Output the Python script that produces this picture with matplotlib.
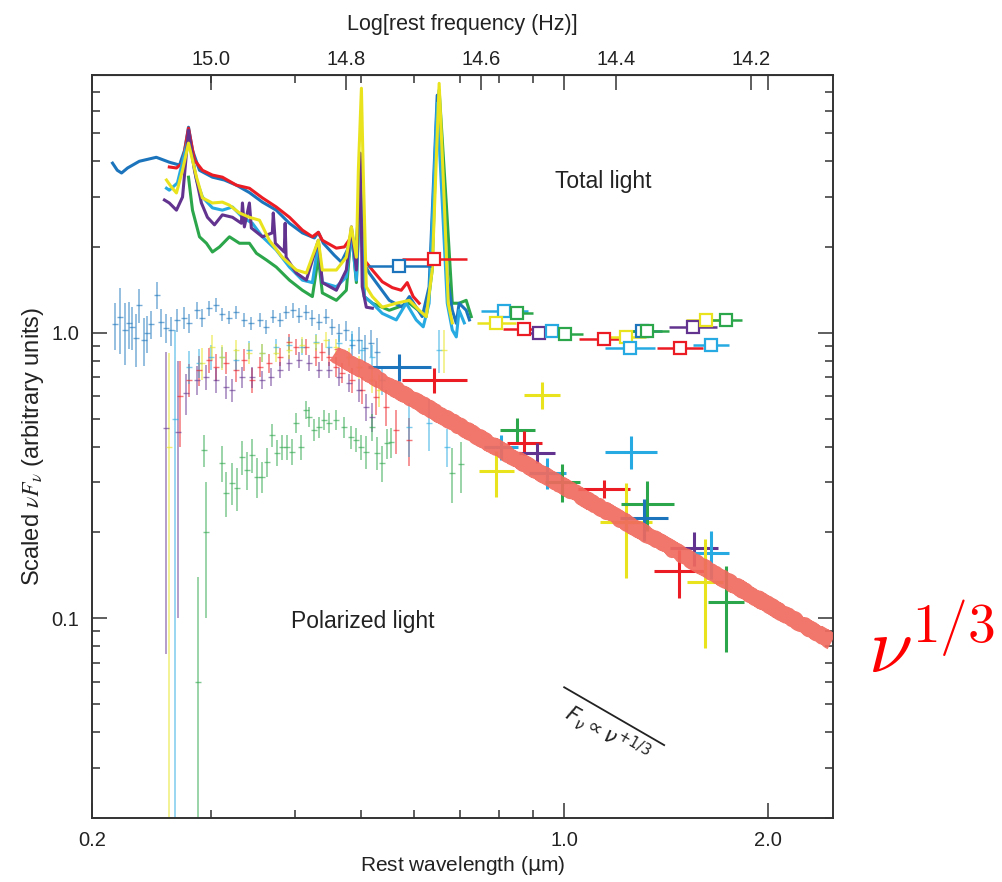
import numpy as np
import matplotlib
matplotlib.use("Agg")
import matplotlib.pyplot as plt
from matplotlib.ticker import FixedLocator, NullLocator, FixedFormatter, LogLocator, NullFormatter

plt.rcParams['font.family'] = ['Liberation Sans', 'DejaVu Sans']

COLORS = {"blue": "#1c75bc", "red": "#ec1c24", "cyan": "#27aae1",
          "yellow": "#e9e31e", "purple": "#62338f", "green": "#2ca64a"}

"""
Total light spectra (rest wavelength um, scaled nuF_nu)
"""
tot_blue_lam = [0.2145, 0.218, 0.2212, 0.2258, 0.235, 0.249, 0.2603, 0.2695, 0.2742, 0.2779, 0.2817,
                0.2885, 0.3015, 0.314, 0.3272, 0.342, 0.3575, 0.3748, 0.392, 0.4097, 0.4268, 0.4326,
                0.44, 0.4568, 0.4679, 0.4775, 0.4842, 0.4907, 0.4992, 0.5041, 0.5146, 0.527, 0.551,
                0.5758, 0.590, 0.6164, 0.631, 0.6487, 0.66, 0.6713, 0.6829, 0.6923, 0.699, 0.7161, 0.724]
tot_blue_f = [3.93, 3.71, 3.63, 3.78, 3.99, 4.12, 3.96, 3.87, 4.36, 5.25, 4.36,
              3.71, 3.51, 3.43, 3.29, 3.10, 2.87, 2.69, 2.42, 2.24, 2.15, 2.25,
              2.06, 1.87, 1.77, 1.95, 2.25, 1.87, 3.16, 1.77, 1.62, 1.50, 1.30,
              1.23, 1.34, 1.14, 1.45, 6.80, 3.71, 1.57, 1.20, 1.08, 1.27, 1.20, 1.11]

tot_red_lam = [0.2603, 0.2667, 0.2723, 0.2779, 0.2836, 0.2914, 0.3015, 0.3119, 0.3272, 0.342, 0.3575,
               0.3748, 0.392, 0.4097, 0.4239, 0.4326, 0.4385, 0.46, 0.4727, 0.4842, 0.4925, 0.4992,
               0.5059, 0.52, 0.5379, 0.5567, 0.5738, 0.5857, 0.5977, 0.610]
tot_red_f = [3.81, 3.78, 3.93, 5.21, 4.03, 3.71, 3.57, 3.51, 3.29, 3.21, 2.97,
             2.76, 2.54, 2.29, 2.17, 2.25, 2.11, 1.98, 2.00, 2.17, 1.95, 2.80,
             1.80, 1.66, 1.51, 1.44, 1.41, 1.50, 1.34, 1.27]

tot_cyan_lam = [0.2578, 0.2603, 0.2676, 0.2779, 0.2856, 0.2914, 0.3015, 0.3119, 0.3228, 0.334, 0.3455,
                0.3575, 0.3748, 0.392, 0.4097, 0.4239, 0.4326, 0.4385, 0.46, 0.4759, 0.4842, 0.4925,
                0.4992, 0.5059, 0.52, 0.5379, 0.5642, 0.5837, 0.6039, 0.6185, 0.631, 0.6487, 0.66,
                0.6713, 0.6829, 0.6923, 0.699, 0.7114]
tot_cyan_f = [3.21, 3.16, 3.35, 4.85, 3.43, 2.99, 2.74, 2.69, 2.76, 2.54, 2.42,
              2.17, 1.95, 1.70, 1.53, 1.50, 2.06, 1.50, 1.45, 1.57, 2.24, 1.53,
              3.43, 1.34, 1.27, 1.17, 1.11, 1.27, 1.11, 1.05, 1.27, 6.37, 2.85,
              1.27, 1.024, 0.968, 1.20, 1.084]

tot_yellow_lam = [0.2578, 0.2622, 0.2667, 0.2723, 0.2779, 0.2856, 0.2914, 0.3015, 0.3119, 0.3195, 0.3306,
                  0.342, 0.354, 0.366, 0.3826, 0.4014, 0.4153, 0.4326, 0.4385, 0.46, 0.4759, 0.4842,
                  0.4925, 0.4958, 0.501, 0.5041, 0.5094, 0.52, 0.5379, 0.5642, 0.590, 0.610, 0.6249,
                  0.6377, 0.653, 0.6646, 0.6736, 0.6829]
tot_yellow_f = [3.43, 3.24, 3.09, 3.71, 4.62, 3.51, 2.97, 2.85, 2.87, 2.80, 2.63,
                2.54, 2.48, 2.11, 1.84, 1.66, 1.62, 2.11, 1.66, 1.66, 1.84, 2.35,
                1.84, 3.71, 7.19, 3.71, 1.45, 1.34, 1.23, 1.27, 1.30, 1.20, 1.14,
                1.66, 7.48, 2.85, 1.27, 1.084]

tot_purple_lam = [0.256, 0.2603, 0.2667, 0.2723, 0.2779, 0.2836, 0.2904, 0.2964, 0.3036, 0.3119, 0.3228,
                  0.3328, 0.334, 0.3362, 0.342, 0.3443, 0.3575, 0.3698, 0.371, 0.3736, 0.3851, 0.3863,
                  0.3876, 0.4014, 0.4153, 0.4326, 0.4385, 0.46, 0.4759, 0.4842, 0.4925, 0.4992, 0.5024,
                  0.5094, 0.52]
tot_purple_f = [2.92, 2.85, 2.69, 2.99, 5.13, 3.71, 2.85, 2.54, 2.39, 2.59, 2.54,
                2.42, 2.85, 2.35, 2.85, 2.33, 2.17, 2.24, 2.63, 2.06, 1.92, 2.42,
                1.84, 1.62, 1.53, 2.11, 1.50, 1.41, 1.66, 2.35, 1.66, 4.26, 1.45,
                1.23, 1.22]

tot_green_lam = [0.2779, 0.2817, 0.2885, 0.2954, 0.3015, 0.3089, 0.3195, 0.3306, 0.342, 0.3503, 0.3624,
                 0.3748, 0.392, 0.4097, 0.4239, 0.4326, 0.4385, 0.46, 0.4759, 0.4842, 0.4925, 0.4992,
                 0.5059, 0.52, 0.551, 0.590, 0.6249, 0.6377, 0.6465, 0.653, 0.669, 0.6829, 0.699,
                 0.7161, 0.7285]
tot_green_f = [3.51, 2.69, 2.17, 2.06, 1.92, 2.00, 2.17, 2.06, 2.06, 1.90, 1.80,
               1.70, 1.53, 1.41, 1.34, 1.84, 1.38, 1.30, 1.41, 2.29, 1.50, 3.24,
               1.34, 1.27, 1.20, 1.27, 1.14, 1.66, 4.85, 7.08, 2.85, 1.27, 1.27,
               1.30, 1.14]

"""
Polarized light spectra (wavelength, flux, 1-sigma error)
"""
pol_blue_lam = [0.216, 0.2197, 0.2237, 0.2266, 0.2296, 0.2326, 0.235, 0.2384, 0.2416, 0.2449, 0.2498,
                0.2533, 0.2578, 0.2622, 0.2676, 0.2732, 0.2788, 0.2856, 0.291, 0.2985, 0.3057, 0.3119,
                0.3195, 0.3272, 0.336, 0.3443, 0.354, 0.3624, 0.371, 0.379, 0.3876, 0.3973, 0.4055,
                0.4153, 0.4239, 0.434, 0.4445, 0.4537, 0.4648, 0.4759, 0.486, 0.4973, 0.5076, 0.5182,
                0.529]
pol_blue_f = [1.07, 1.14, 1.02, 1.08, 1.05, 0.96, 1.25, 0.945, 1.0, 1.07, 1.36,
              1.09, 1.04, 1.02, 1.11, 1.13, 1.08, 1.20, 1.13, 1.22, 1.25, 1.16,
              1.13, 1.18, 1.11, 1.08, 1.11, 1.05, 1.14, 1.11, 1.18, 1.20, 1.15,
              1.18, 1.13, 1.09, 1.14, 1.05, 1.00, 1.02, 0.91, 0.945, 0.886, 0.923,
              0.858]
pol_blue_e = [0.20, 0.30, 0.25, 0.20, 0.18, 0.20, 0.17, 0.18, 0.15, 0.12, 0.15,
              0.12, 0.12, 0.12, 0.10, 0.10, 0.08, 0.08, 0.08, 0.07, 0.07, 0.06,
              0.06, 0.06, 0.06, 0.06, 0.06, 0.06, 0.06, 0.06, 0.06, 0.07, 0.07,
              0.07, 0.07, 0.07, 0.07, 0.07, 0.07, 0.08, 0.08, 0.10, 0.10, 0.10,
              0.10]

pol_red_lam = [0.2695, 0.2788, 0.2885, 0.2985, 0.3057, 0.3162, 0.3272, 0.3362, 0.3455, 0.354, 0.366,
               0.379, 0.392, 0.4014, 0.4153, 0.4297, 0.4385, 0.449, 0.46, 0.4695, 0.486, 0.5024,
               0.527, 0.5453, 0.5642, 0.590]
pol_red_f = [0.60, 0.685, 0.743, 0.805, 0.761, 0.785, 0.743, 0.805, 0.685, 0.761, 0.785,
             0.824, 0.93, 0.894, 0.894, 0.824, 0.858, 0.824, 0.761, 0.725, 0.685, 0.632,
             0.597, 0.551, 0.458, 0.423]
pol_red_e = [0.20, 0.09, 0.09, 0.08, 0.08, 0.07, 0.07, 0.07, 0.07, 0.06, 0.06,
             0.06, 0.06, 0.06, 0.06, 0.06, 0.06, 0.06, 0.06, 0.06, 0.07, 0.07,
             0.08, 0.08, 0.08, 0.08]

pol_purple_lam = [0.257, 0.2685, 0.276, 0.2856, 0.2954, 0.3057, 0.3162, 0.3228, 0.334, 0.3455, 0.3575,
                  0.3686, 0.379, 0.392, 0.4055, 0.4195, 0.434, 0.449, 0.4648, 0.481, 0.4973, 0.5094,
                  0.52]
pol_purple_f = [0.465, 0.45, 0.617, 0.685, 0.702, 0.685, 0.647, 0.632, 0.702, 0.702, 0.685,
                0.702, 0.743, 0.785, 0.805, 0.785, 0.743, 0.743, 0.702, 0.669, 0.632, 0.551,
                0.508]
pol_purple_e = [0.39, 0.35, 0.10, 0.08, 0.07, 0.07, 0.06, 0.06, 0.06, 0.06, 0.05,
                0.05, 0.05, 0.05, 0.05, 0.05, 0.05, 0.05, 0.05, 0.05, 0.06, 0.06,
                0.06]

pol_yellow_lam = [0.2596, 0.2914, 0.3015, 0.3119, 0.3272, 0.342, 0.3575, 0.3748, 0.392, 0.4097, 0.4297,
                  0.4445, 0.46, 0.481, 0.4973, 0.52, 0.532, 0.6646]
pol_yellow_f = [0.40, 0.785, 0.894, 0.824, 0.873, 0.851, 0.851, 0.851, 0.873, 0.908, 0.923,
                0.945, 0.894, 0.824, 0.761, 0.685, 0.632, 0.873]
pol_yellow_e = [0.45, 0.10, 0.09, 0.08, 0.07, 0.07, 0.06, 0.06, 0.06, 0.06, 0.06,
                0.06, 0.06, 0.06, 0.07, 0.07, 0.08, 0.15]

pol_cyan_lam = [0.2658, 0.2788, 0.2885, 0.3005, 0.3119, 0.3272, 0.342, 0.3575, 0.3748, 0.392, 0.4097,
                0.4297, 0.449, 0.4648, 0.486, 0.5024, 0.52, 0.5379, 0.590, 0.631, 0.653, 0.6713]
pol_cyan_f = [0.50, 0.761, 0.785, 0.824, 0.824, 0.805, 0.873, 0.851, 0.894, 0.908, 0.894,
              0.93, 0.894, 0.923, 0.945, 0.873, 0.824, 0.685, 0.469, 0.485, 0.873, 0.40]
pol_cyan_e = [0.52, 0.10, 0.09, 0.08, 0.07, 0.07, 0.06, 0.06, 0.06, 0.06, 0.06,
              0.06, 0.06, 0.06, 0.07, 0.07, 0.08, 0.08, 0.10, 0.10, 0.15, 0.06]

pol_green_lam = [0.2875, 0.2934, 0.2954, 0.311, 0.3162, 0.3228, 0.3283, 0.334, 0.3397, 0.3455, 0.3515,
                 0.3575, 0.3636, 0.3698, 0.376, 0.3826, 0.3889, 0.3959, 0.4014, 0.4083, 0.4153, 0.4195,
                 0.4268, 0.434, 0.4415, 0.449, 0.46, 0.4727, 0.4842, 0.4925, 0.501, 0.5094, 0.52,
                 0.529, 0.5379, 0.5472, 0.5547, 0.6829, 0.7042]
pol_green_f = [0.06, 0.39, 0.20, 0.351, 0.276, 0.299, 0.287, 0.368, 0.332, 0.374, 0.314,
               0.314, 0.354, 0.44, 0.381, 0.399, 0.399, 0.384, 0.485, 0.399, 0.538, 0.508,
               0.458, 0.469, 0.496, 0.485, 0.496, 0.469, 0.433, 0.423, 0.399, 0.384, 0.469,
               0.381, 0.351, 0.412, 0.415, 0.324, 0.346]
pol_green_e = [0.08, 0.05, 0.10, 0.05, 0.05, 0.05, 0.05, 0.05, 0.05, 0.05, 0.05,
               0.04, 0.04, 0.04, 0.04, 0.04, 0.04, 0.04, 0.04, 0.04, 0.04, 0.04,
               0.04, 0.04, 0.04, 0.04, 0.04, 0.04, 0.04, 0.04, 0.04, 0.05, 0.05,
               0.05, 0.05, 0.05, 0.05, 0.07, 0.07]

"""
Broad-band photometry: total light (squares) and polarized light (crosses)
half band width given in dex
"""
ph_tot_obj = ["blue", "red", "cyan", "green", "yellow", "red", "purple", "cyan", "green", "red",
              "yellow", "cyan", "blue", "green", "red", "purple", "cyan", "yellow", "green"]
ph_tot_lam = [0.570, 0.642, 0.815, 0.852, 0.793, 0.873, 0.918, 0.960, 1.003, 1.146,
              1.235, 1.252, 1.304, 1.327, 1.484, 1.551, 1.650, 1.622, 1.736]
ph_tot_f = [1.715, 1.81, 1.19, 1.17, 1.08, 1.03, 1.00, 1.016, 0.992, 0.953,
            0.968, 0.886, 1.016, 1.016, 0.886, 1.049, 0.908, 1.11, 1.11]
ph_tot_dex = [0.047, 0.048, 0.035, 0.024, 0.029, 0.032, 0.021, 0.025, 0.026, 0.037,
              0.030, 0.037, 0.030, 0.032, 0.034, 0.035, 0.027, 0.029, 0.024]

ph_pol_obj = ["blue", "red", "yellow", "green", "cyan", "red", "purple", "yellow", "cyan", "green",
              "red", "cyan", "yellow", "green", "blue", "purple", "cyan", "red", "yellow", "green"]
ph_pol_lam = [0.570, 0.642, 0.928, 0.852, 0.807, 0.873, 0.912, 0.793, 0.944, 0.993,
              1.146, 1.256, 1.235, 1.327, 1.313, 1.557, 1.650, 1.480, 1.617, 1.736]
ph_pol_f = [0.761, 0.685, 0.607, 0.458, 0.399, 0.412, 0.381, 0.327, 0.324, 0.301,
            0.285, 0.384, 0.218, 0.252, 0.224, 0.177, 0.170, 0.146, 0.134, 0.114]
ph_pol_e = [0.083, 0.070, 0.065, 0.045, 0.040, 0.040, 0.030, 0.060, 0.040, 0.045,
            0.020, 0.050, 0.080, 0.050, 0.038, 0.024, 0.033, 0.028, 0.055, 0.038]
ph_pol_dex = [0.047, 0.048, 0.027, 0.026, 0.025, 0.026, 0.027, 0.026, 0.027, 0.026,
              0.038, 0.039, 0.038, 0.039, 0.036, 0.035, 0.027, 0.038, 0.027, 0.027]

# hand drawn nu^(4/3) guide and the F_nu marker line
guide_lam = [0.457, 2.49]
guide_f = [0.845, 0.083]
fnu_lam = [1.0, 1.406]
fnu_f = [0.0574, 0.036]

LOG_C = 14.4768   # log10(c) in micron/s


def draw_plot():
    fig = plt.figure(figsize=(10.03, 8.82), dpi=100)
    ax = fig.add_axes([92 / 1003, 1 - 818 / 882, 741 / 1003, 743 / 882])
    ax.set_xscale('log')
    ax.set_yscale('log')
    ax.set_xlim(0.2, 2.5)
    ax.set_ylim(0.02, 8.0)

    """
    polarized spectra
    """
    pol = [("blue", pol_blue_lam, pol_blue_f, pol_blue_e),
           ("red", pol_red_lam, pol_red_f, pol_red_e),
           ("purple", pol_purple_lam, pol_purple_f, pol_purple_e),
           ("cyan", pol_cyan_lam, pol_cyan_f, pol_cyan_e),
           ("yellow", pol_yellow_lam, pol_yellow_f, pol_yellow_e),
           ("green", pol_green_lam, pol_green_f, pol_green_e)]
    for name, lam, f, e in pol:
        ax.errorbar(lam, f, yerr=e, fmt='_', ms=4, mew=1.0, color=COLORS[name],
                    ecolor=COLORS[name], elinewidth=1.1, alpha=0.6, zorder=2)

    """
    total spectra
    """
    tot = [("green", tot_green_lam, tot_green_f),
           ("blue", tot_blue_lam, tot_blue_f),
           ("red", tot_red_lam, tot_red_f),
           ("cyan", tot_cyan_lam, tot_cyan_f),
           ("purple", tot_purple_lam, tot_purple_f),
           ("yellow", tot_yellow_lam, tot_yellow_f)]
    for name, lam, f in tot:
        ax.plot(lam, f, color=COLORS[name], lw=2.2, zorder=3)

    """
    photometry
    """
    for name, lam, f, d in zip(ph_tot_obj, ph_tot_lam, ph_tot_f, ph_tot_dex):
        xe = [[lam - lam / 10 ** d], [lam * 10 ** d - lam]]
        ax.errorbar([lam], [f], xerr=xe, fmt='s', ms=8.5, mfc='white', mec=COLORS[name],
                    mew=1.6, color=COLORS[name], elinewidth=1.8, zorder=4)
    for name, lam, f, e, d in zip(ph_pol_obj, ph_pol_lam, ph_pol_f, ph_pol_e, ph_pol_dex):
        xe = [[lam - lam / 10 ** d], [lam * 10 ** d - lam]]
        ax.errorbar([lam], [f], xerr=xe, yerr=[e], fmt='none', ecolor=COLORS[name],
                    elinewidth=2.2, zorder=4)

    guide, = ax.plot(guide_lam, guide_f, color='#f06a5e', lw=11, alpha=0.92,
                     solid_capstyle='butt', zorder=6)
    guide.set_sketch_params(1.2, 6, 20)

    ax.plot(fnu_lam, fnu_f, color='#222222', lw=1.3)
    ax.text(1.16, 0.0395, r'$F_\nu \propto \nu^{+1/3}$', rotation=-30, fontsize=15,
            math_fontfamily='dejavusans', ha='center', va='center', color='#222222')

    ax.text(0.69, 0.856, 'Total light', transform=ax.transAxes, fontsize=16.5,
            ha='center', va='center', color='#222222')
    ax.text(0.365, 0.264, 'Polarized light', transform=ax.transAxes, fontsize=16.5,
            ha='center', va='center', color='#222222')

    fig.text(0.929, 0.262, r'$\nu^{1/3}$', color='red', fontsize=57,
             math_fontfamily='cm', ha='center', va='center')

    """
    axes, ticks
    """
    ax.xaxis.set_major_locator(FixedLocator([0.2, 1.0, 2.0]))
    ax.xaxis.set_major_formatter(FixedFormatter(['0.2', '1.0', '2.0']))
    ax.xaxis.set_minor_locator(FixedLocator([0.3, 0.4, 0.5, 0.6, 0.7, 0.8, 0.9]))
    ax.xaxis.set_minor_formatter(NullFormatter())
    ax.yaxis.set_major_locator(FixedLocator([0.1, 1.0]))
    ax.yaxis.set_major_formatter(FixedFormatter(['0.1', '1.0']))
    ax.yaxis.set_minor_locator(LogLocator(base=10, subs=np.arange(2, 10)))
    ax.yaxis.set_minor_formatter(NullFormatter())

    ax.tick_params(which='both', direction='in', top=True, right=True, colors='#333333',
                   labelcolor='#222222', labelsize=14.5, width=1.1)
    ax.tick_params(which='major', length=10.5)
    ax.tick_params(axis='x', which='major', pad=9)
    ax.tick_params(axis='y', which='major', pad=9)
    ax.tick_params(which='minor', length=5.5)
    for sp in ax.spines.values():
        sp.set_linewidth(1.4)
        sp.set_color('#333333')

    ax.set_xlabel(r'Rest wavelength ($\mathrm{\mu}$m)', fontsize=15, color='#222222', labelpad=3)
    ax.set_ylabel(r'Scaled $\nu F_\nu$ (arbitrary units)', fontsize=17, color='#222222',
                  math_fontfamily='stix', labelpad=4)

    secax = ax.secondary_xaxis('top', functions=(lambda x: LOG_C - np.log10(x),
                                                 lambda v: 10 ** (LOG_C - v)))
    secax.xaxis.set_major_locator(FixedLocator([15.0, 14.8, 14.6, 14.4, 14.2]))
    secax.xaxis.set_major_formatter(FixedFormatter(['15.0', '14.8', '14.6', '14.4', '14.2']))
    secax.xaxis.set_minor_locator(NullLocator())
    secax.tick_params(direction='in', length=10.5, width=1.1, colors='#333333',
                      labelcolor='#222222', labelsize=14.5, pad=4)
    secax.set_xlabel('Log[rest frequency (Hz)]', fontsize=15.5, color='#222222', labelpad=15)

    plt.savefig("out.png", dpi=100)
    plt.close()


def main():
    draw_plot()


if __name__ == '__main__':
    main()
